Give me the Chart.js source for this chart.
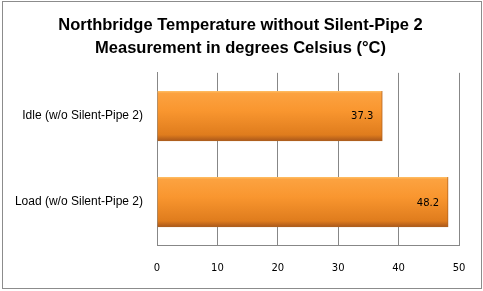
<!DOCTYPE html>
<html>
<head>
<meta charset="utf-8">
<script src="https://cdn.jsdelivr.net/npm/chart.js@4/dist/chart.umd.min.js"></script>
<style>
  html, body { margin: 0; padding: 0; background: #fff; }
  #wrap { position: relative; width: 483px; height: 291px; }
  #frame {
    position: absolute; left: 2px; top: 1px; width: 478px; height: 286px;
    border: 1px solid #8c8c8c; pointer-events: none;
  }
</style>
</head>
<body>
<div id="wrap">
  <canvas id="chart" width="483" height="291"></canvas>
  <div id="frame"></div>
</div>
<script>
const titleLines = [
  "Northbridge Temperature without Silent-Pipe 2",
  "Measurement in degrees Celsius (°C)",
];
const categories = ["Idle (w/o Silent-Pipe 2)", "Load (w/o Silent-Pipe 2)"];
const temperatures = [37.3, 48.2];
const xTicks = [0, 10, 20, 30, 40, 50];

const BAR_H = 50;

function barFill(ctx) {
  const chart = ctx.chart;
  const yScale = chart.scales.y;
  if (!yScale || !chart.chartArea) return "#f7952f";
  const cy = yScale.getPixelForValue(ctx.dataIndex);
  const g = chart.ctx.createLinearGradient(0, cy - BAR_H / 2, 0, cy + BAR_H / 2);
  g.addColorStop(0, "#ffc066");
  g.addColorStop(0.05, "#fca240");
  g.addColorStop(0.4, "#f9962f");
  g.addColorStop(0.88, "#df7c1d");
  g.addColorStop(1, "#a9571a");
  return g;
}

// value labels drawn at the inner end of each bar
const valueLabels = {
  id: "valueLabels",
  afterDatasetsDraw(chart) {
    const c = chart.ctx;
    const meta = chart.getDatasetMeta(0);
    c.save();
    c.font = "10px 'DejaVu Sans'";
    c.fillStyle = "#000";
    c.textAlign = "right";
    c.textBaseline = "middle";
    meta.data.forEach((bar, i) => {
      c.fillText(temperatures[i].toFixed(1), bar.x - 9, bar.y + 1);
    });
    c.restore();
  },
};

new Chart(document.getElementById("chart"), {
  type: "bar",
  data: {
    labels: categories,
    datasets: [
      {
        data: temperatures,
        backgroundColor: barFill,
        borderColor: "#b0611e",
        borderWidth: { top: 0, left: 0, bottom: 1, right: 1 },
        borderSkipped: false,
        barThickness: BAR_H,
      },
    ],
  },
  options: {
    indexAxis: "y",
    responsive: false,
    animation: false,
    layout: { padding: { left: 11, right: 13, top: 0, bottom: 0 } },
    plugins: {
      legend: { display: false },
      tooltip: { enabled: false },
      title: {
        display: true,
        text: titleLines,
        color: "#000",
        font: { family: "'Liberation Sans'", size: 16.5, weight: "bold", lineHeight: 1.45 },
        padding: { top: 13, bottom: 12 },
      },
    },
    scales: {
      x: {
        min: 0,
        max: 50,
        afterBuildTicks: (scale) => {
          scale.ticks = xTicks.map((v) => ({ value: v }));
        },
        afterFit: (scale) => {
          scale.height = 46;
        },
        grid: { color: "#878787", drawTicks: false },
        border: { color: "#878787" },
        ticks: {
          color: "#000",
          padding: 17,
          font: { family: "'DejaVu Sans'", size: 10 },
        },
      },
      y: {
        afterFit: (scale) => {
          scale.width = 146;
        },
        grid: { display: false, drawTicks: false },
        border: { color: "#878787" },
        ticks: {
          color: "#000",
          padding: 14,
          font: { family: "'Liberation Sans'", size: 12 },
        },
      },
      // empty spacer on the right so the title centres on the whole frame
      yRight: {
        position: "right",
        grid: { display: false, drawTicks: false },
        border: { display: false },
        ticks: { display: false },
        afterFit: (scale) => {
          scale.width = 11;
        },
      },
    },
  },
  plugins: [valueLabels],
});
</script>
</body>
</html>
